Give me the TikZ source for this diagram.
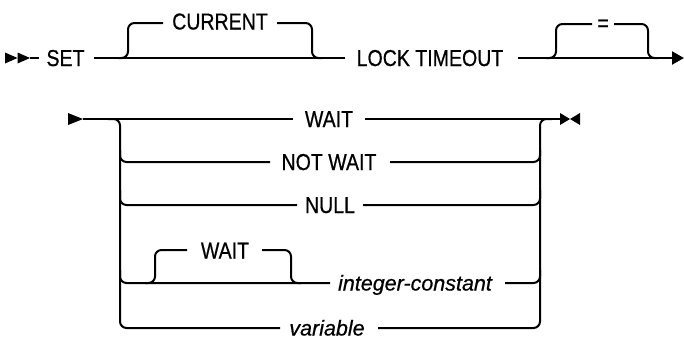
\documentclass[tikz,border=0pt]{standalone}
\usepackage{fontspec}
\setmainfont{Liberation Sans}
\newfontfamily\railfont[FakeStretch=0.85,FakeBold=0.6]{Liberation Sans}
\newfontfamily\varfont[FakeBold=0.6]{Liberation Sans}
\usetikzlibrary{arrows.meta}

\tikzset{
  rail/.style={line width=2pt, rounded corners=6.5pt},
  word/.style={font=\railfont\fontsize{23}{27}\selectfont, inner sep=0pt, anchor=base},
  varword/.style={word, font=\varfont\itshape\fontsize{21.5}{27}\selectfont},
}

\begin{document}
\begin{tikzpicture}[x=1pt,y=-1pt]
    \useasboundingbox (0,0) rectangle (684,341);

    % first line: SET [CURRENT] LOCK TIMEOUT [=]
    \coordinate (StartA) at (5,58);
    \coordinate (StartB) at (17.5,58);
    \coordinate (StartC) at (30,58);
    \coordinate (SetIn) at (39,58);
    \coordinate (SetOut) at (94,58);
    \coordinate (LockIn) at (345,58);
    \coordinate (LockOut) at (518,58);
    \coordinate (LineEnd) at (684,58);

    \node[word] (set) at (65.5,66) {SET};
    \node[word] (current) at (220,29.5) {CURRENT};
    \node[word] (lock) at (430,66) {LOCK TIMEOUT};
    \node[word] (equal) at (603,31) {=};

    \fill ([yshift=5.5pt]StartA) -- (StartB) -- ([yshift=-5.5pt]StartA) -- cycle;
    \fill ([yshift=5.5pt]StartB) -- (StartC) -- ([yshift=-5.5pt]StartB) -- cycle;
    \draw[rail] (StartC) -- (SetIn);
    \draw[rail] (SetOut) -- (LockIn);
    \draw[rail] (118,58) -- (128,58) -- (128,23) -- (163,23);
    \draw[rail] (277,23) -- (312,23) -- (312,58) -- (322,58);
    \draw[rail, -{Triangle[length=12pt,width=13pt]}] (LockOut) -- (LineEnd);
    \draw[rail] (546,58) -- (556,58) -- (556,24) -- (592,24);
    \draw[rail] (614,24) -- (648,24) -- (648,58) -- (658,58);

    % second line: WAIT | NOT WAIT | NULL | [WAIT] integer-constant | variable
    \coordinate (ContA) at (68,119);
    \coordinate (ContB) at (83,119);
    \coordinate (EndA) at (560,119);
    \coordinate (EndB) at (570,119);
    \coordinate (EndC) at (580,119);

    \node[word] (wait) at (329,127) {WAIT};
    \node[word] (notwait) at (329,170) {NOT WAIT};
    \node[word] (null) at (330,213) {NULL};
    \node[word] (waittwo) at (225,258.5) {WAIT};
    \node[varword] (intconst) at (415,290.5) {integer-constant};
    \node[varword] (variable) at (327,335.5) {variable};

    \fill ([yshift=6pt]ContA) -- (ContB) -- ([yshift=-6pt]ContA) -- cycle;
    \fill ([yshift=6pt]EndA) -- (EndB) -- ([yshift=-6pt]EndA) -- cycle;
    \fill ([yshift=6pt]EndC) -- (EndB) -- ([yshift=-6pt]EndC) -- cycle;
    \draw[rail] (ContB) -- (293,119);
    \draw[rail] (365,119) -- (EndA);

    \draw[rail] (108,119) -- (120,119) -- (120,328) -- (280,328);
    \draw[rail] (378,328) -- (540,328) -- (540,119) -- (552,119);
    \draw[rail] (120,150) -- (120,162) -- (270,162);
    \draw[rail] (390,162) -- (540,162) -- (540,150);
    \draw[rail] (120,190) -- (120,205) -- (297,205);
    \draw[rail] (363,205) -- (540,205) -- (540,190);
    \draw[rail] (120,270) -- (120,283) -- (330,283);
    \draw[rail] (505,283) -- (540,283) -- (540,270);
    \draw[rail] (145,283) -- (155,283) -- (155,250) -- (187,250);
    \draw[rail] (262,250) -- (291,250) -- (291,283) -- (301,283);
\end{tikzpicture}
\end{document}
